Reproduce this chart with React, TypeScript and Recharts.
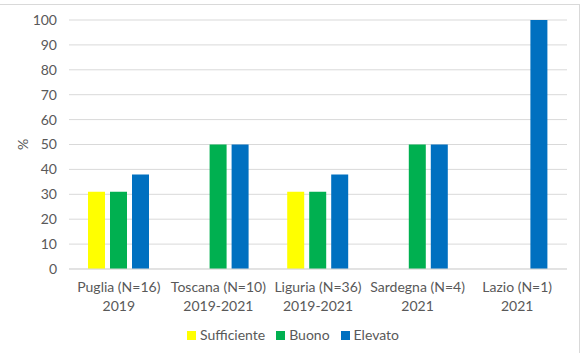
import React from "react";
import { BarChart, Bar, XAxis, YAxis, CartesianGrid, Legend } from "recharts";

const regions = ["Puglia (N=16)", "Toscana (N=10)", "Liguria (N=36)", "Sardegna (N=4)", "Lazio (N=1)"];
const periods = ["2019", "2019-2021", "2019-2021", "2021", "2021"];
const seriesNames = ["Sufficiente", "Buono", "Elevato"];
const seriesColors = ["#FFFF00", "#00B050", "#0070C0"];
const sufficiente = [31, 0, 31, 0, 0];
const buono = [31, 50, 31, 50, 0];
const elevato = [38, 50, 38, 50, 100];
const yTicks = [0, 10, 20, 30, 40, 50, 60, 70, 80, 90, 100];

const data = regions.map((r, i) => ({
  name: r,
  Sufficiente: sufficiente[i],
  Buono: buono[i],
  Elevato: elevato[i],
}));

const FONT = "Lato, 'Open Sans', sans-serif";
const TEXT = "#595959";
const FS = 14;

const XTick = (props: any) => {
  const { x, y, payload, index } = props;
  return (
    <g transform={`translate(${x},${y})`}>
      <text textAnchor="middle" fill={TEXT} fontSize={FS} fontFamily={FONT}>
        <tspan x={0} dy={15}>{payload.value}</tspan>
        <tspan x={0} dy={19}>{periods[index]}</tspan>
      </text>
    </g>
  );
};

const YLabel = (props: any) => {
  const vb = props.viewBox || {};
  const cy = (vb.y ?? 20) + (vb.height ?? 249) / 2;
  return (
    <text x={0} y={0} transform={`translate(22,${cy}) rotate(-90)`} textAnchor="middle" dominantBaseline="central" fill={TEXT} fontSize={FS} fontFamily={FONT}>%</text>
  );
};

const LegendContent = () => (
  <div style={{ display: "flex", justifyContent: "center", fontFamily: FONT, fontSize: FS, color: TEXT, lineHeight: "18px" }}>
    {seriesNames.map((n, i) => (
      <div key={n} style={{ display: "flex", alignItems: "center", marginLeft: i ? 11 : 0 }}>
        <span style={{ display: "inline-block", width: 9, height: 9, background: seriesColors[i], marginRight: 4 }} />
        <span>{n}</span>
      </div>
    ))}
  </div>
);

export default function App() {
  return (
    <div style={{ position: "absolute", left: 0, top: 0, width: 586, height: 353, background: "#fff" }}>
      <div style={{ position: "absolute", left: 0, top: 4, width: 580, height: 349, borderTop: "1px solid #d9d9d9", borderRight: "1px solid #d9d9d9", boxSizing: "border-box" }} />
      <BarChart
        width={586}
        height={353}
        data={data}
        margin={{ top: 20, right: 19, left: 0, bottom: 16 }}
        barCategoryGap={19}
        barGap={5}
      >
        <CartesianGrid vertical={false} stroke="#d9d9d9" />
        <XAxis
          dataKey="name"
          tick={<XTick />}
          tickLine={false}
          axisLine={{ stroke: "#d9d9d9" }}
          height={50}
          interval={0}
        />
        <YAxis
          width={69}
          domain={[0, 100]}
          ticks={yTicks}
          interval={0}
          tickLine={false}
          axisLine={false}
          tickMargin={6}
          tick={{ fill: TEXT, fontSize: FS, fontFamily: FONT }}
          label={<YLabel />}
        />
        <Legend
          verticalAlign="bottom"
          content={<LegendContent />}
          wrapperStyle={{ left: 0, width: 586, height: 18, top: 326 }}
        />
        {seriesNames.map((n, i) => (
          <Bar key={n} dataKey={n} fill={seriesColors[i]} barSize={17} isAnimationActive={false} />
        ))}
      </BarChart>
    </div>
  );
}
